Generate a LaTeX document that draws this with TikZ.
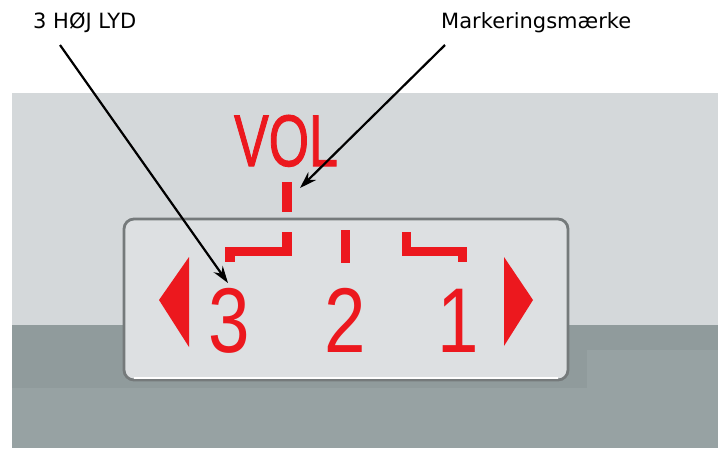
\documentclass[tikz,border=0pt]{standalone}
\usepackage{fontspec}
\usepackage{graphicx}
\usetikzlibrary{arrows.meta}
\newfontfamily\labelfont{DejaVu Sans}
\newfontfamily\lcdfont{Liberation Sans}
\newfontfamily\volfont[FakeBold=1.6]{Liberation Sans}
\definecolor{bglight}{HTML}{D4D8DA}
\definecolor{bgdark}{HTML}{97A2A3}
\definecolor{bgdarker}{HTML}{909B9C}
\definecolor{panelfill}{HTML}{DDE0E2}
\definecolor{panelrim}{HTML}{757A7B}
\definecolor{lcdred}{RGB}{236,24,30}
\tikzset{
  callout/.style={inner sep=0pt, anchor=base west, font=\labelfont\fontsize{21}{25}\selectfont},
  pointer/.style={line width=2.2pt, -{Stealth[length=17pt,width=11pt]}},
  digit/.style={inner sep=0pt, anchor=base, text=lcdred, font=\lcdfont\fontsize{92}{92}\selectfont},
  tickmark/.style={draw=lcdred, line width=9.5pt},
}
\begin{document}
\begin{tikzpicture}[x=1pt,y=-1pt]
\useasboundingbox (0,0) rectangle (718,448);
% background photo
\fill[white] (0,0) rectangle (718,448);
\fill[bglight] (12,93) rectangle (718,325);
\fill[bgdark] (12,325) rectangle (718,448);
\fill[bgdarker] (12,325) rectangle (587,388);
\fill[bgdarker] (587,325) rectangle (718,350);
% panel
\draw[rounded corners=10pt, fill=panelfill, draw=panelrim, line width=2.8pt] (124,219) rectangle (568,380);
\draw[white, line width=1.5pt] (134,378) -- (558,378);
% VOL label
\node[inner sep=0pt, anchor=base, text=lcdred, font=\volfont\fontsize{73}{73}\selectfont] (vol) at (286,166) {\scalebox{0.71}[1]{VOL}};
% tick marks
\draw[tickmark] (287,182) -- (287,212);
\draw[tickmark] (287,232) -- (287,251.5) -- (230,251.5) -- (230,262);
\draw[tickmark] (345.5,230) -- (345.5,263);
\draw[tickmark] (406.5,232) -- (406.5,251.5) -- (462.5,251.5) -- (462.5,262);
% digits
\node[digit] (three) at (229.5,352) {\scalebox{0.81}[1]{3}};
\node[digit] (two) at (345,352) {\scalebox{0.81}[1]{2}};
\node[digit] (one) at (458,352) {\scalebox{0.81}[1]{1}};
% triangles
\fill[lcdred] (159,300) -- (189,257) -- (189,347) -- cycle;
\fill[lcdred] (504,257) -- (533,300) -- (504,346) -- cycle;
% callouts
\node[callout] (hoej) at (33,28) {3 HØJ LYD};
\node[callout] (mark) at (441,28) {Markeringsmærke};
\coordinate (hoejstart) at (60,45);
\coordinate (markstart) at (445,45);
\coordinate (threetop) at (228,283);
\coordinate (marktip) at (300,188);
\draw[pointer] (hoejstart) -- (threetop);
\draw[pointer] (markstart) -- (marktip);
\end{tikzpicture}
\end{document}
